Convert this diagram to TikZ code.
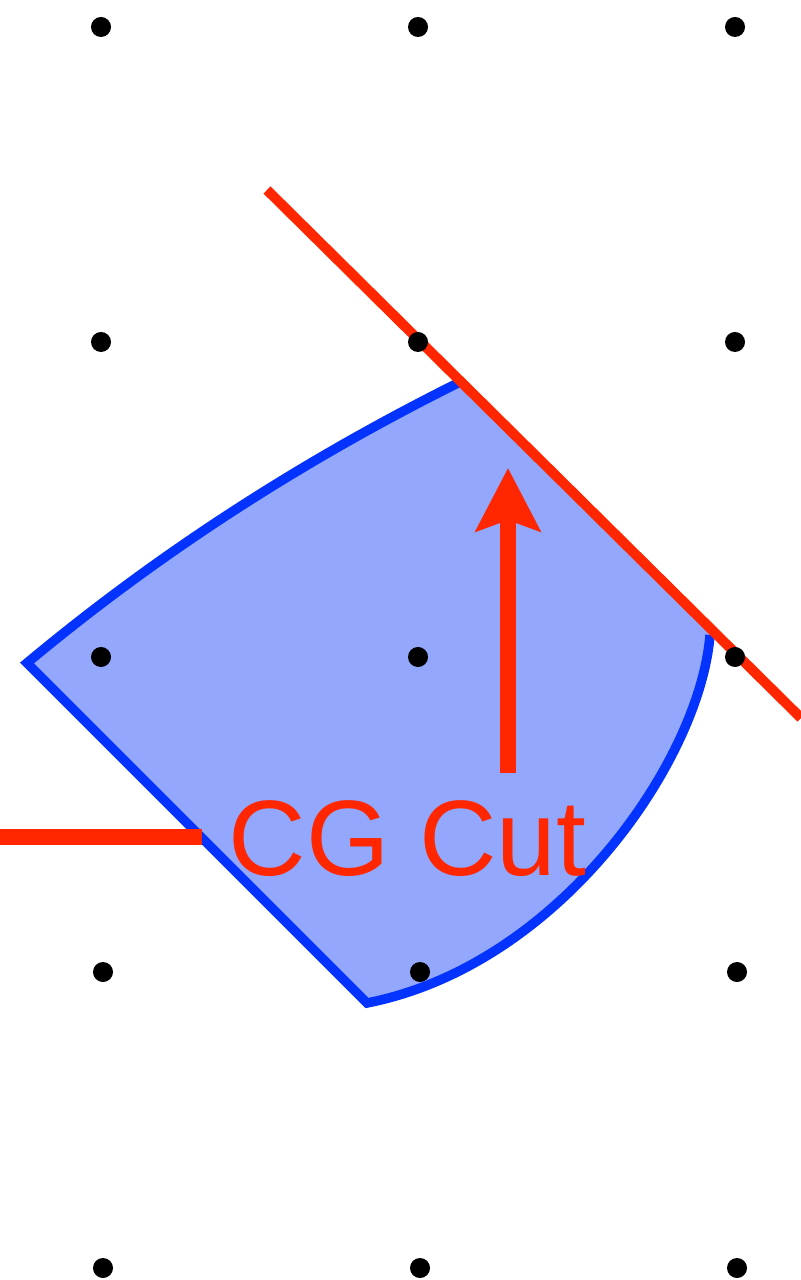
\documentclass[tikz,border=0pt]{standalone}
\usepackage{fontspec}
\setmainfont{Liberation Sans}
\usetikzlibrary{arrows.meta}
\definecolor{cutred}{RGB}{255,38,0}
\definecolor{regionblue}{RGB}{4,51,255}
\definecolor{regionfill}{RGB}{147,167,253}

\begin{document}
\begin{tikzpicture}[
    x=0.01cm, y=-0.01cm,
    latticept/.style={circle, fill=black, inner sep=0pt, minimum size=0.2cm},
    region/.style={draw=regionblue, line width=0.095cm, fill=regionfill, miter limit=20},
    cutline/.style={cutred, line width=0.1cm},
    arrow/.style={cutred, line width=0.155cm, -{Stealth[length=0.63cm, width=0.64cm, inset=0.11cm]}}
]
\useasboundingbox (0,0) rectangle (801,1280);

% Region
\fill[regionfill] (460,382) .. controls (305,459) and (160,552) .. (27,663)
    -- (367,1003) .. controls (560,965) and (700,760) .. (710,635) -- cycle;
\draw[region, fill=none] (460,382) .. controls (305,459) and (160,552) .. (27,663)
    -- (367,1003) .. controls (560,965) and (700,760) .. (710,635);

% Cut
\coordinate (cuta) at (267,190);
\coordinate (cutb) at (801,718);
\draw[cutline] (cuta) -- (cutb);

\coordinate (stubl) at (0,837);
\coordinate (stubr) at (202,837);
\draw[cutred, line width=0.16cm] (stubl) -- (stubr);

\coordinate (arrowfoot) at (508,773);
\coordinate (arrowtip) at (508,468);
\draw[arrow] (arrowfoot) -- (arrowtip);

\node (cgcut) [anchor=base west, inner sep=0pt, text=cutred,
    font=\fontsize{30.5}{36}\selectfont] at (228,875) {CG Cut};

% Lattice points
\foreach \px/\py [count=\i] in {101/27, 418/27, 735/27,
                                101/342, 418/342, 735/342,
                                101/657, 418/657, 735/657,
                                103/972, 420/972, 737/972,
                                103/1268, 420/1268, 737/1268}
    \node (p\i) [latticept] at (\px,\py) {};

\end{tikzpicture}
\end{document}
